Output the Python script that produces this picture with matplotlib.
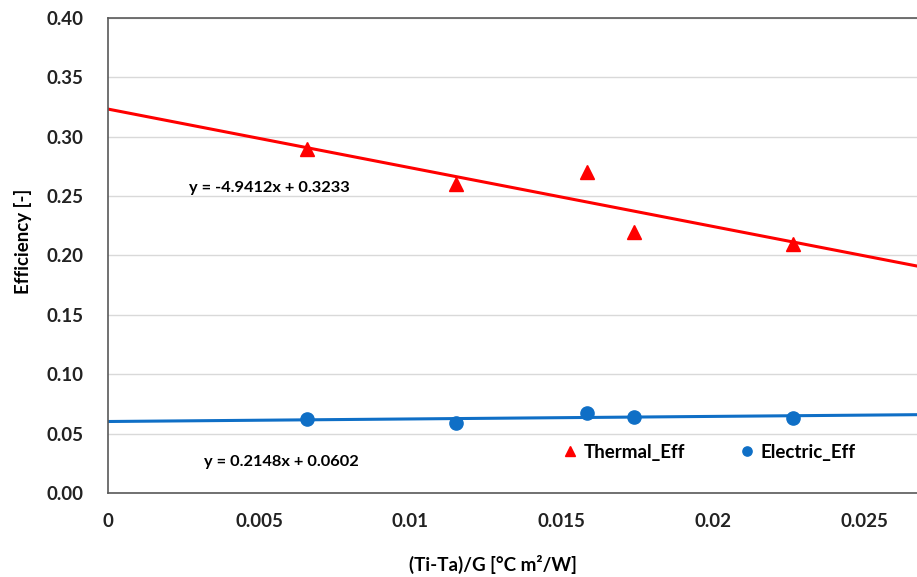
import numpy as np
import matplotlib.pyplot as plt

plt.rcParams['font.family'] = ['Lato', 'DejaVu Sans']
plt.rcParams['font.weight'] = 'bold'

# data
x_vals = [0.00658, 0.01151, 0.01584, 0.01739, 0.02265]
thermal_eff = [0.290, 0.260, 0.270, 0.220, 0.210]
electric_eff = [0.062, 0.059, 0.067, 0.064, 0.063]
thermal_fit = [-4.9412, 0.3233]
electric_fit = [0.2148, 0.0602]
y_ticks = [0.00, 0.05, 0.10, 0.15, 0.20, 0.25, 0.30, 0.35, 0.40]
x_ticks = [0, 0.005, 0.01, 0.015, 0.02, 0.025]
x_tick_labels = ['0', '0.005', '0.01', '0.015', '0.02', '0.025']

red = '#ff0000'
blue = '#0f6fc6'
xmax = 0.02675

fig = plt.figure(figsize=(9.17, 5.77), dpi=100)
ax = fig.add_axes([0.1178, 0.1456, 0.8822, 0.8232])

xl = np.array([0, xmax])
ax.plot(xl, np.polyval(thermal_fit, xl), color=red, lw=2.2, zorder=2)
ax.plot(xl, np.polyval(electric_fit, xl), color=blue, lw=2.2, zorder=2)
ax.plot(x_vals, thermal_eff, '^', color=red, ms=10, ls='none',
        label='Thermal_Eff', zorder=3)
ax.plot(x_vals, electric_eff, 'o', color=blue, ms=9.5, ls='none',
        label='Electric_Eff', zorder=3)

ax.text(0.00268, 0.2565, 'y = -4.9412x + 0.3233', fontsize=11.8,
        va='center', ha='left')
ax.text(0.00318, 0.0265, 'y = 0.2148x + 0.0602', fontsize=11.8,
        va='center', ha='left')

ax.set_xlim(0, xmax)
ax.set_ylim(0, 0.40)
ax.set_yticks(y_ticks)
ax.set_yticklabels(['%.2f' % v for v in y_ticks])
ax.set_xticks(x_ticks)
ax.set_xticklabels(x_tick_labels)
ax.tick_params(length=0, labelsize=13.5, colors='#222222')
ax.tick_params(axis='x', pad=14.5)
ax.tick_params(axis='y', pad=18)
ax.yaxis.grid(True, color='#d9d9d9', lw=1)
ax.set_axisbelow(True)
for s in ['left', 'bottom', 'top']:
    ax.spines[s].set_color('#595959')
    ax.spines[s].set_linewidth(1.2)
ax.spines['right'].set_visible(False)

ax.set_xlabel('(Ti-Ta)/G [°C m²/W]', fontsize=13.5, fontweight='bold')
ax.set_ylabel('Efficiency [-]', fontsize=13.5, fontweight='bold')
ax.xaxis.set_label_coords(0.476, -0.13)
ax.yaxis.set_label_coords(-0.094, 0.53)

leg = ax.legend(loc='center left', bbox_to_anchor=(0.56, 0.086), ncol=2,
                frameon=False, fontsize=13.5, handletextpad=0.2,
                columnspacing=2.8, markerscale=0.7, handlelength=1.0,
                borderpad=0, borderaxespad=0)
for t in leg.get_texts():
    t.set_fontweight('bold')

fig.savefig('out.png', dpi=100)
